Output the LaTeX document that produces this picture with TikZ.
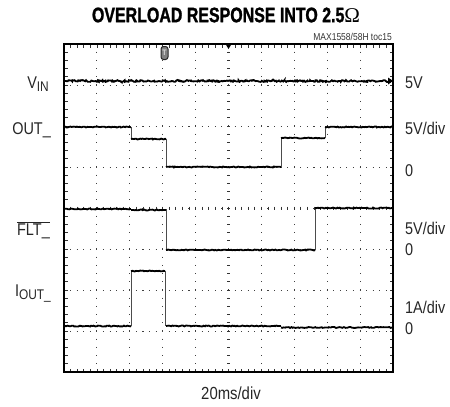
\documentclass[tikz,border=0pt]{standalone}
\usepackage{fontspec}
\setmainfont{Liberation Sans}[FakeStretch=0.85]
\newfontfamily\titlefont{Liberation Sans}[FakeStretch=0.76, FakeBold=1.2]
\newfontfamily\omegafont{Liberation Serif}
\usetikzlibrary{decorations.pathmorphing}
\newcommand{\lowsub}[1]{\raisebox{-3pt}{\fontsize{14}{14}\selectfont #1}}
\tikzset{
  lbl/.style={font=\fontsize{17}{17}\selectfont, inner sep=0pt, text=black!85},
  leftlbl/.style={lbl, anchor=base east},
  rightlbl/.style={lbl, anchor=base west},
  trace/.style={line width=1.8pt, decorate, decoration={random steps, segment length=1.3pt, amplitude=0.5pt}},
  noisy/.style={line width=1.8pt, decorate, decoration={random steps, segment length=1.1pt, amplitude=0.9pt}},
  edge/.style={line width=0.7pt, black!70},
  vdots/.style={black!75, line width=0.9pt, dash pattern=on 1.1pt off 7.1pt, dash phase=0.55pt},
  hdots/.style={black!75, line width=0.9pt, dash pattern=on 1.1pt off 5.48pt, dash phase=0.55pt},
  frame/.style={line width=2pt, black},
  tick/.style={line width=0.8pt, black!80}
}
\begin{document}
\begin{tikzpicture}[x=1pt,y=-1pt]
\useasboundingbox (0,0) rectangle (450,407);
% title
\node[inner sep=0pt] (title) at (226,15) {\titlefont\bfseries\fontsize{21}{21}\selectfont OVERLOAD RESPONSE INTO 2.5{\omegafont\mdseries Ω}};
\node[inner sep=0pt, anchor=base east, font=\fontsize{10}{10}\selectfont, text=black!80] (toc) at (392,40) {MAX1558/58H toc15};
% grid
\foreach \k in {1,...,9} {
  \draw[vdots] ({64+32.9*\k},44) -- ({64+32.9*\k},372);
}
\foreach \k in {1,...,7} {
  \draw[hdots] (64,{44+41*\k}) -- (393,{44+41*\k});
}
% border ticks
\foreach \k in {1,...,49} {
  \draw[tick] ({64+6.58*\k},44) -- ({64+6.58*\k},47.5);
  \draw[tick] ({64+6.58*\k},372) -- ({64+6.58*\k},368.5);
  \draw[tick] ({64+6.58*\k},206.5) -- ({64+6.58*\k},209.5);
}
\foreach \k in {1,...,39} {
  \draw[tick] (64,{44+8.2*\k}) -- (67.5,{44+8.2*\k});
  \draw[tick] (393,{44+8.2*\k}) -- (389.5,{44+8.2*\k});
  \draw[tick] (227,{44+8.2*\k}) -- (230,{44+8.2*\k});
}
% frame
\draw[frame] (64,44) rectangle (393,372);
% markers
\fill (225.5,44) -- (231.5,44) -- (228.5,49) -- cycle;
\fill (393,81) -- (388,77.5) -- (388,84.5) -- cycle;
\node[draw=black!85, fill=black!50, rounded corners=2.5pt, minimum width=7pt, minimum height=13pt, inner sep=0pt, line width=1pt,
      font=\fontsize{8}{8}\selectfont\bfseries, text=black!15] (trig) at (164.5,53) {T};
% VIN trace
\draw[noisy] (64,81) -- (392,81);
% OUT_ trace
\draw[trace] (64,127) -- (131,127);
\draw[edge] (131,127) -- (131,139);
\draw[trace] (131,139) -- (166,139);
\draw[edge] (166,139) -- (166,167);
\draw[trace] (166,167) -- (281,167);
\draw[edge] (281,167) -- (281,138);
\draw[trace] (281,138) -- (325,138);
\draw[edge] (325,138) -- (325,127);
\draw[trace] (325,127) -- (392,127);
% FLT_ trace
\draw[trace] (64,209) -- (131,209);
\draw[trace] (131,210) -- (166,210);
\draw[edge] (166,209) -- (166,250);
\draw[trace] (166,250) -- (315,250);
\draw[edge] (315,250) -- (315,208);
\draw[trace] (315,208) -- (392,208);
% IOUT_ trace
\draw[trace] (64,326) -- (131,326);
\draw[edge] (131,326) -- (131,271);
\draw[trace] (131,271) -- (165,271);
\draw[edge] (165.5,271) -- (165.5,326);
\draw[trace] (166,326) -- (281,326);
\draw[trace] (281,327.5) -- (392,327.5);
% left labels
\node[leftlbl] (vin) at (49,88) {V\lowsub{IN}};
\node[leftlbl] (out) at (51,134) {OUT\_};
\node[leftlbl] (flt) at (50,235) {$\overline{\hbox{FLT\_}}$};
\node[leftlbl] (iout) at (51,296) {I\lowsub{OUT\_}};
% right labels
\node[rightlbl] (r1) at (405,88) {5V};
\node[rightlbl] (r2) at (405,134) {5V/div};
\node[rightlbl] (r3) at (405,176) {0};
\node[rightlbl] (r4) at (405,234) {5V/div};
\node[rightlbl] (r5) at (405,255) {0};
\node[rightlbl] (r6) at (405,313) {1A/div};
\node[rightlbl] (r7) at (405,334) {0};
% x axis label
\node[lbl, anchor=base, font=\fontsize{17.5}{17.5}\selectfont] (xl) at (231,399) {20ms/div};
\end{tikzpicture}
\end{document}
